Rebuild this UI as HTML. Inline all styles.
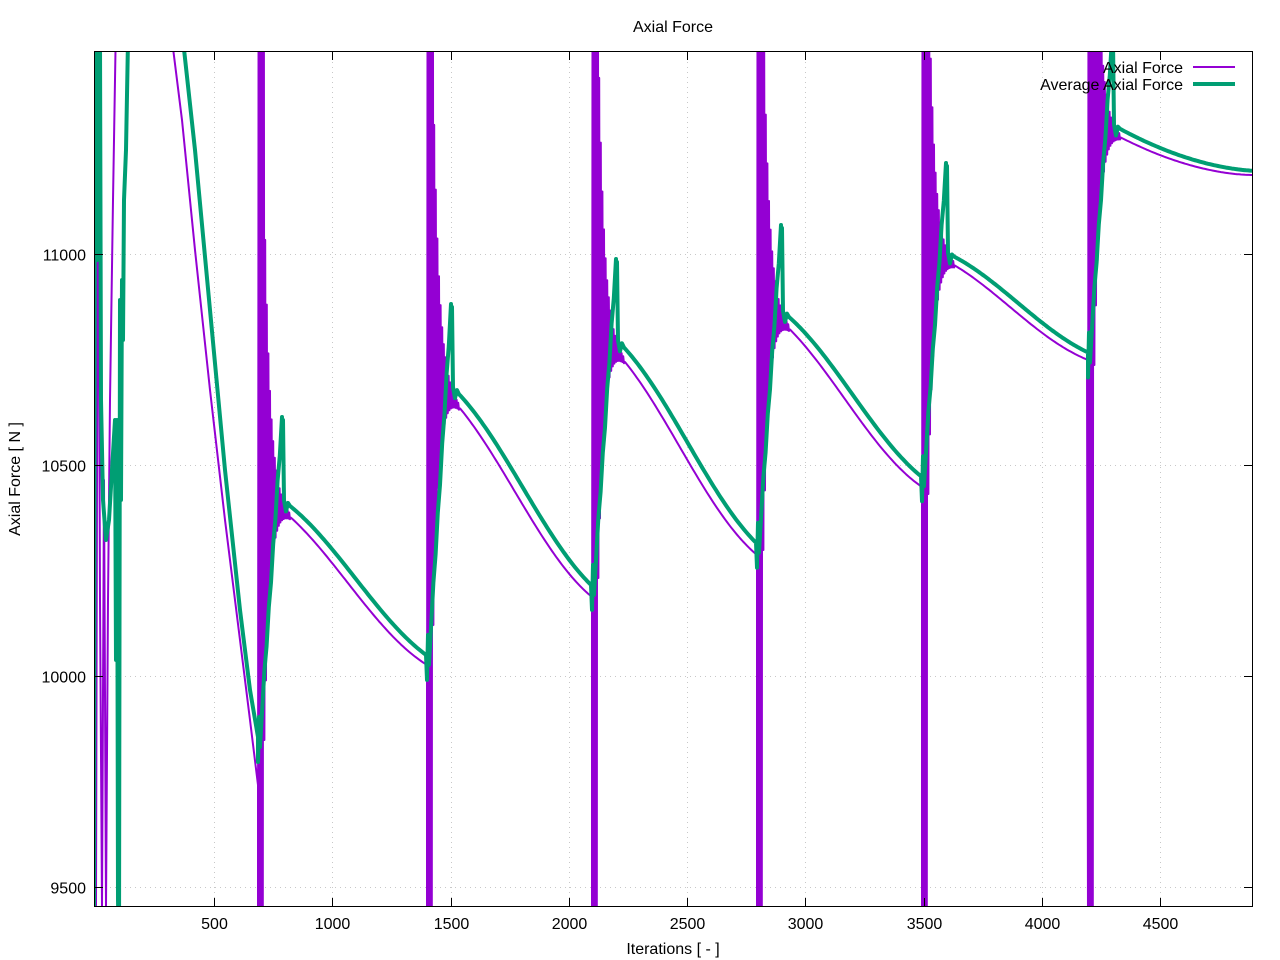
<!DOCTYPE html>
<html><head><meta charset="utf-8"><style>
html,body{margin:0;padding:0;background:#fff;overflow:hidden;width:1280px;height:960px;}
svg{display:block;}
svg text{font-family:"Liberation Sans",sans-serif;font-size:16px;fill:#000;}
</style></head><body>
<svg id="s" width="1280" height="960" xmlns="http://www.w3.org/2000/svg">
<defs><clipPath id="c"><rect x="94" y="51" width="1159" height="856"/></clipPath></defs>
<rect width="1280" height="960" fill="#fff"/>
<g id="grid" stroke="#c8c8c8" stroke-width="1" stroke-dasharray="1,4"></g>
<g id="plot" clip-path="url(#c)" fill="none" stroke-linejoin="round"></g>
<rect x="94.5" y="51.5" width="1158" height="855" fill="none" stroke="#000" stroke-width="1"/>
<g id="ticks" stroke="#000" stroke-width="1"></g>
<g id="labels"></g>
<text x="673" y="32" text-anchor="middle">Axial Force</text>
<text x="673" y="954" text-anchor="middle">Iterations [ - ]</text>
<text transform="translate(20,479) rotate(-90)" text-anchor="middle">Axial Force [ N ]</text>
<text x="1183" y="73" text-anchor="end">Axial Force</text>
<text x="1183" y="90" text-anchor="end">Average Axial Force</text>
<line x1="1193" y1="67" x2="1235" y2="67" stroke="#9400d3" stroke-width="2"/>
<line x1="1193" y1="84" x2="1235" y2="84" stroke="#009e73" stroke-width="4"/>
</svg>
<script>
var NS="http://www.w3.org/2000/svg";
function el(p,t,a,txt){var e=document.createElementNS(NS,t);for(var k in a)e.setAttribute(k,a[k]);if(txt)e.textContent=txt;document.getElementById(p).appendChild(e);return e;}
function X(v){return 95.75+v*0.2365;}
function Y(v){return 254+(11000-v)*0.422;}
[500,1000,1500,2000,2500,3000,3500,4000,4500].forEach(function(v){var x=Math.round(X(v))+0.5;
el('grid','line',{x1:x,y1:52,x2:x,y2:906});el('ticks','line',{x1:x,y1:907,x2:x,y2:898});el('ticks','line',{x1:x,y1:51,x2:x,y2:60});
el('labels','text',{x:x,y:929,'text-anchor':'middle'},v);});
[9500,10000,10500,11000].forEach(function(v){var y=Math.round(Y(v))+0.5;
el('grid','line',{x1:95,y1:y,x2:1252,y2:y});el('ticks','line',{x1:94,y1:y,x2:103,y2:y});el('ticks','line',{x1:1253,y1:y,x2:1244,y2:y});
el('labels','text',{x:86,y:y+6,'text-anchor':'end'},v);});
function path(pts,col,w){var d='M'+pts.map(function(p){return p[0].toFixed(1)+','+p[1].toFixed(1);}).join('L');el('plot','path',{d:d,stroke:col,'stroke-width':w});}
var P=[],G=[];
P.push([94,51],[96,907],[98,51],[100,600],[102,907],[104,480],[106,907],[108,600],[110,400],[113,200],[116,20]);
P.push([172,40],[182,120],[195,250],[210,390],[225,520],[240,640],[250,720],[258,785]);
G.push([94,907],[95,40],[97,260],[98,40],[99,200],[100,40],[101,400],[103,500],[106,540],[109,520],[112,470],[115,420],[116,660],[117,420],[118,900],[119,950],[120,300],[121,500],[122,280],[123,340],[124,200],[126,150],[128,40]);
G.push([183,40],[195,150],[210,310],[225,470],[240,610],[250,690],[258,737]);
var cyc=[[258,427,500,665,420,663],[427,592,385,597,307,588],[592,757,338,555,262,545],[757,922,310,487,228,480],[922,1088,254,360,166,357],[1088,1253,125,175,40,170]];
var f=function(t){return 0.6*t+0.4*(1-Math.cos(Math.PI*t))/2;};
cyc.forEach(function(c,i){var s=c[0],e=c[1],p0=c[2],p1=c[3],pk=c[4];
 if(i==5){f=function(t){return 1-Math.pow(1-t,1.8);};}
 function py(x){var t=Math.max(0,Math.min(1,(x-s-10)/(e-s-10)));return p0+(p1-p0)*f(t);}
 for(var k=0;k<=40;k++){var x=s+k*0.8,A=k<8?900:300*Math.exp(-(k-8)/7);var b=py(x);P.push([x,k%2?b-A:(k<8?920:b+A*0.8)]);}
 for(var x=s+33;x<=e;x+=2)P.push([x,py(x)]);
 var gs=G[G.length-1][1];
 G.push([s,gs+25],[s+1,gs-20],[s+2,gs+10]);
 var n=10;for(var k=1;k<=n;k++){var x=s+2+k*(22/n),y=gs+(pk-gs)*k/n;G.push([x,y+(k%2?4:-3)]);}
 G.push([s+24,pk],[s+25,pk],[s+26,py(s+18)-5],[s+28,py(s+18)+6],[s+30,py(s+20)-4]);
 for(var x=s+32;x<=e;x+=2)G.push([x,Math.min(py(x-8)-4,py(x)-2)]);
});
path(P,'#9400d3',2);path(G,'#009e73',4);
</script>
</body></html>
